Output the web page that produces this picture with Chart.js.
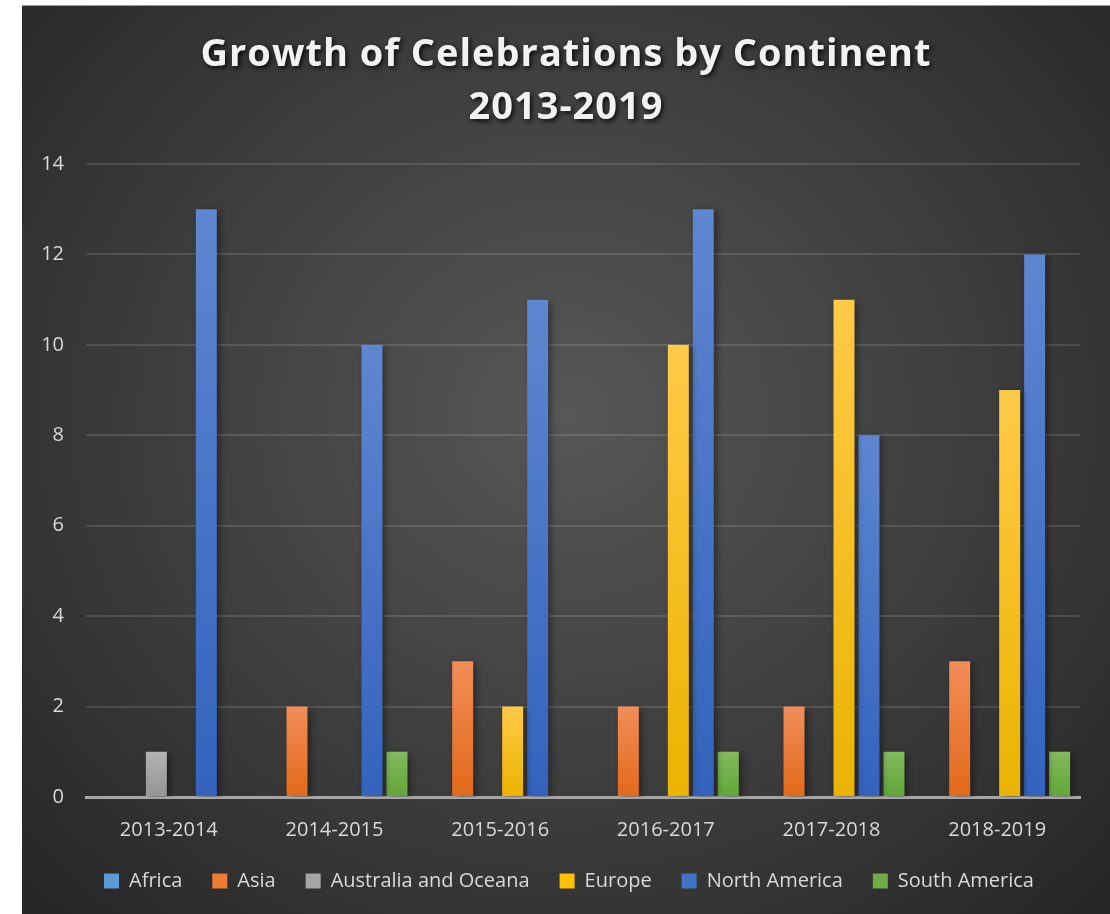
<!DOCTYPE html>
<html>
<head>
<meta charset="utf-8">
<script src="https://cdn.jsdelivr.net/npm/chart.js@4"></script>
<style>
  html, body { margin: 0; padding: 0; background: #ffffff; }
  #wrap {
    position: absolute; left: 22px; top: 5px; width: 1088px; height: 909px;
    background: radial-gradient(ellipse farthest-corner at 50% 45%, #575757 0%, #3a3a3a 60%, #252525 100%);
    border-top: 1px solid #9a9a9a;
    box-sizing: border-box;
  }
</style>
</head>
<body>
<div id="wrap"><canvas id="growthChart"></canvas></div>
<script>
document.addEventListener('DOMContentLoaded', function () {
    const titleLines = ['Growth of Celebrations by Continent', '2013-2019'];
    const periods = ['2013-2014', '2014-2015', '2015-2016', '2016-2017', '2017-2018', '2018-2019'];
    const yTicks = [0, 2, 4, 6, 8, 10, 12, 14];

    const continents = ['Africa', 'Asia', 'Australia and Oceana', 'Europe', 'North America', 'South America'];
    const africa = [0, 0, 0, 0, 0, 0];
    const asia = [0, 2, 3, 2, 2, 3];
    const australia = [1, 0, 0, 0, 0, 0];
    const europe = [0, 0, 2, 10, 11, 9];
    const northAmerica = [13, 10, 11, 13, 8, 12];
    const southAmerica = [0, 1, 0, 1, 1, 1];

    // base colour, light top and darker bottom for each series
    const palette = [
        ['#5b9bd5', '#6fa8de', '#4a8bcb'],
        ['#ed7d31', '#f28d58', '#e2691a'],
        ['#a5a5a5', '#b2b2b2', '#949494'],
        ['#ffc000', '#ffca48', '#ebb300'],
        ['#4472c4', '#5f86d0', '#3363bd'],
        ['#70ad47', '#82ba5e', '#62a638']
    ];

    function barFill(i) {
        return function (ctx) {
            const chart = ctx.chart;
            if (ctx.type !== 'data' || !chart.chartArea) {
                return palette[i][0];
            }
            const y = chart.scales.y;
            const top = y.getPixelForValue(ctx.raw);
            const bottom = y.getPixelForValue(0);
            if (bottom - top < 1) {
                return palette[i][0];
            }
            const g = chart.ctx.createLinearGradient(0, top, 0, bottom);
            g.addColorStop(0, palette[i][1]);
            g.addColorStop(1, palette[i][2]);
            return g;
        };
    }

    const series = [africa, asia, australia, europe, northAmerica, southAmerica];
    const datasets = series.map((values, i) => ({
        label: continents[i],
        data: values,
        backgroundColor: barFill(i),
        borderWidth: 0,
        categoryPercentage: 0.905,
        barPercentage: 0.84
    }));

    const barShadow = {
        id: 'barShadow',
        beforeDatasetsDraw(chart) {
            const c = chart.ctx;
            c.save();
            c.shadowColor = 'rgba(0, 0, 0, 0.45)';
            c.shadowBlur = 7;
            c.shadowOffsetX = 3;
            c.shadowOffsetY = 2;
        },
        afterDatasetsDraw(chart) {
            chart.ctx.restore();
        }
    };

    // nudge the legend row a little to the right, under the plot centre
    const legendShift = {
        id: 'legendShift',
        afterLayout(chart) {
            if (chart.legend) {
                chart.legend.left += 18;
                chart.legend.right += 18;
            }
        }
    };

    const titleText = {
        id: 'titleText',
        afterDraw(chart) {
            const c = chart.ctx;
            c.save();
            c.font = 'bold 38px "Open Sans", sans-serif';
            c.letterSpacing = '1px';
            c.fillStyle = '#f2f2f2';
            c.textAlign = 'center';
            c.textBaseline = 'middle';
            c.shadowColor = 'rgba(0, 0, 0, 0.85)';
            c.shadowBlur = 5;
            c.shadowOffsetX = 2;
            c.shadowOffsetY = 2;
            c.fillText(titleLines[0], chart.width / 2, 49);
            c.fillText(titleLines[1], chart.width / 2, 102);
            c.restore();
        }
    };

    const ctxGrowth = document.getElementById('growthChart').getContext('2d');
    new Chart(ctxGrowth, {
        type: 'bar',
        data: {
            labels: periods,
            datasets: datasets
        },
        options: {
            responsive: true,
            maintainAspectRatio: false,
            animation: false,
            layout: {
                padding: { top: 158, right: 30, left: 0, bottom: 13 }
            },
            scales: {
                x: {
                    afterFit(scale) { scale.height = 44; },
                    grid: { display: false, drawTicks: false },
                    border: { display: true, color: '#a6a6a6', width: 3 },
                    ticks: {
                        color: '#d9d9d9',
                        padding: 21,
                        font: { family: '"Open Sans", sans-serif', size: 20 }
                    }
                },
                y: {
                    min: 0,
                    max: 14,
                    afterFit(scale) { scale.width = 64; },
                    afterBuildTicks(scale) { scale.ticks = yTicks.map(v => ({ value: v })); },
                    grid: { color: 'rgba(255, 255, 255, 0.12)', lineWidth: 2, drawTicks: false },
                    border: { display: false },
                    ticks: {
                        color: '#d9d9d9',
                        padding: 22,
                        font: { family: '"Open Sans", sans-serif', size: 20 }
                    }
                }
            },
            plugins: {
                title: { display: false },
                tooltip: { enabled: false },
                legend: {
                    position: 'bottom',
                    labels: {
                        color: '#d9d9d9',
                        boxWidth: 15,
                        boxHeight: 15,
                        padding: 30,
                        font: { family: '"Open Sans", sans-serif', size: 20 },
                        generateLabels(chart) {
                            return chart.data.datasets.map((ds, i) => ({
                                text: ds.label,
                                fillStyle: palette[i][0],
                                strokeStyle: palette[i][0],
                                lineWidth: 0,
                                fontColor: '#d9d9d9',
                                hidden: false,
                                datasetIndex: i
                            }));
                        }
                    }
                }
            }
        },
        plugins: [barShadow, legendShift, titleText]
    });
});
</script>
</body>
</html>
